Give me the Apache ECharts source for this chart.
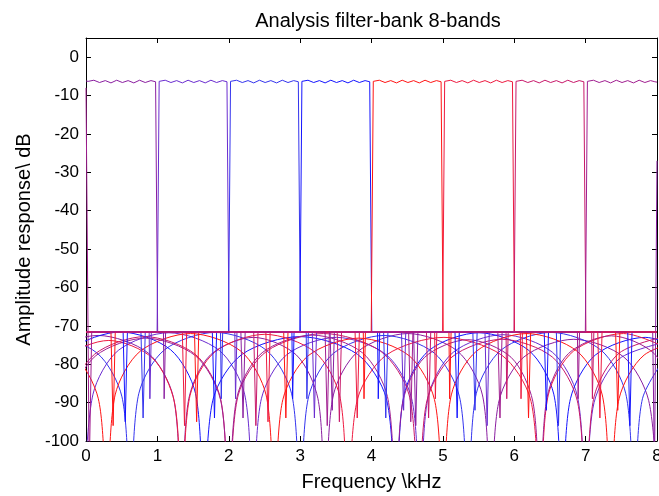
<!DOCTYPE html>
<html><head><meta charset="utf-8">
<script src="https://cdn.jsdelivr.net/npm/echarts@6/dist/echarts.min.js"></script>
<style>html,body{margin:0;padding:0;background:#fff}#c{width:659px;height:496px}</style>
</head><body><div id="c"></div>
<script>
// Tick labels
const xTicks = [0,1,2,3,4,5,6,7,8];
const yTicks = [-100,-90,-80,-70,-60,-50,-40,-30,-20,-10,0];
const bandNames = ['band 1','band 2','band 3','band 4','band 5','band 6','band 7','band 8'];
const bandColors = ['#8a1ea0','#6a2cd0','#3434ee','#1414ff','#ff1414','#ee1a40','#c8186a','#a01e90'];

// Main response lines (passband, transitions, stopband floor with notches): [kHz, dB]
const band1Main = [[0,-6.2],[0.03,-6.3],[0.11,-6.0],[0.19,-6.6],[0.27,-6.1],[0.35,-6.7],[0.43,-6.0],[0.51,-6.6],[0.59,-6.1],[0.67,-6.7],[0.75,-6.0],[0.83,-6.6],[0.91,-6.1],[0.975,-6.4],
 [1.004,-71.6],[1.085,-71.6],[1.095,-89],[1.105,-89],[1.115,-71.6],[2.17,-71.6],[2.2,-94],[2.23,-71.6],
 [3.42,-71.6],[3.45,-92],[3.48,-71.6],[4.59,-71.6],[4.62,-96],[4.65,-71.6],[7.94,-71.6],[7.965,-108],[8,-27]];
const band2Main = [[0,-71.6],[0.885,-71.6],[0.895,-89],[0.905,-89],[0.915,-71.6],[0.996,-71.6],
 [1.025,-6.3],[1.11,-6.0],[1.19,-6.6],[1.27,-6.1],[1.35,-6.7],[1.43,-6.0],[1.51,-6.6],[1.59,-6.1],[1.67,-6.7],[1.75,-6.0],[1.83,-6.6],[1.91,-6.1],[1.975,-6.4],
 [2.004,-71.6],[2.085,-71.6],[2.095,-89],[2.105,-89],[2.115,-71.6],[3.17,-71.6],[3.2,-94],[3.23,-71.6],
 [4.42,-71.6],[4.45,-92],[4.48,-71.6],[5.59,-71.6],[5.62,-96],[5.65,-71.6],[8,-71.6]];
const band3Main = [[0,-71.6],[0.77,-71.6],[0.8,-94],[0.83,-71.6],[1.885,-71.6],[1.895,-89],[1.905,-89],[1.915,-71.6],[1.996,-71.6],
 [2.025,-6.3],[2.11,-6.0],[2.19,-6.6],[2.27,-6.1],[2.35,-6.7],[2.43,-6.0],[2.51,-6.6],[2.59,-6.1],[2.67,-6.7],[2.75,-6.0],[2.83,-6.6],[2.91,-6.1],[2.975,-6.4],
 [3.004,-71.6],[3.085,-71.6],[3.095,-89],[3.105,-89],[3.115,-71.6],[4.17,-71.6],[4.2,-94],[4.23,-71.6],
 [5.42,-71.6],[5.45,-92],[5.48,-71.6],[6.59,-71.6],[6.62,-96],[6.65,-71.6],[8,-71.6]];
const band4Main = [[0,-71.6],[0.52,-71.6],[0.55,-95],[0.58,-71.6],[1.77,-71.6],[1.8,-94],[1.83,-71.6],
 [2.885,-71.6],[2.895,-89],[2.905,-89],[2.915,-71.6],[2.996,-71.6],
 [3.025,-6.3],[3.11,-6.0],[3.19,-6.6],[3.27,-6.1],[3.35,-6.7],[3.43,-6.0],[3.51,-6.6],[3.59,-6.1],[3.67,-6.7],[3.75,-6.0],[3.83,-6.6],[3.91,-6.1],[3.975,-6.4],
 [4.004,-71.6],[4.085,-71.6],[4.095,-89],[4.105,-89],[4.115,-71.6],[5.17,-71.6],[5.2,-94],[5.23,-71.6],
 [6.42,-71.6],[6.45,-92],[6.48,-71.6],[7.59,-71.6],[7.62,-96],[7.65,-71.6],[8,-71.6]];
const band5Main = [[0,-71.6],[0.35,-71.6],[0.38,-96],[0.41,-71.6],[1.52,-71.6],[1.55,-95],[1.58,-71.6],
 [2.77,-71.6],[2.8,-94],[2.83,-71.6],[3.885,-71.6],[3.895,-89],[3.905,-89],[3.915,-71.6],[3.996,-71.6],
 [4.025,-6.3],[4.11,-6.0],[4.19,-6.6],[4.27,-6.1],[4.35,-6.7],[4.43,-6.0],[4.51,-6.6],[4.59,-6.1],[4.67,-6.7],[4.75,-6.0],[4.83,-6.6],[4.91,-6.1],[4.975,-6.4],
 [5.004,-71.6],[5.085,-71.6],[5.095,-89],[5.105,-89],[5.115,-71.6],[6.17,-71.6],[6.2,-94],[6.23,-71.6],
 [7.42,-71.6],[7.45,-92],[7.48,-71.6],[8,-71.6]];
const band6Main = [[0,-71.6],[1.35,-71.6],[1.38,-96],[1.41,-71.6],[2.52,-71.6],[2.55,-95],[2.58,-71.6],
 [3.77,-71.6],[3.8,-94],[3.83,-71.6],[4.885,-71.6],[4.895,-89],[4.905,-89],[4.915,-71.6],[4.996,-71.6],
 [5.025,-6.3],[5.11,-6.0],[5.19,-6.6],[5.27,-6.1],[5.35,-6.7],[5.43,-6.0],[5.51,-6.6],[5.59,-6.1],[5.67,-6.7],[5.75,-6.0],[5.83,-6.6],[5.91,-6.1],[5.975,-6.4],
 [6.004,-71.6],[6.085,-71.6],[6.095,-89],[6.105,-89],[6.115,-71.6],[7.17,-71.6],[7.2,-94],[7.23,-71.6],[8,-71.6]];
const band7Main = [[0,-71.6],[2.35,-71.6],[2.38,-96],[2.41,-71.6],[3.52,-71.6],[3.55,-95],[3.58,-71.6],
 [4.77,-71.6],[4.8,-94],[4.83,-71.6],[5.885,-71.6],[5.895,-89],[5.905,-89],[5.915,-71.6],[5.996,-71.6],
 [6.025,-6.3],[6.11,-6.0],[6.19,-6.6],[6.27,-6.1],[6.35,-6.7],[6.43,-6.0],[6.51,-6.6],[6.59,-6.1],[6.67,-6.7],[6.75,-6.0],[6.83,-6.6],[6.91,-6.1],[6.975,-6.4],
 [7.004,-71.6],[7.085,-71.6],[7.095,-89],[7.105,-89],[7.115,-71.6],[8,-71.6]];
const band8Main = [[0,-8],[0.045,-108],[0.08,-71.6],[3.35,-71.6],[3.38,-96],[3.41,-71.6],[4.52,-71.6],[4.55,-95],[4.58,-71.6],
 [5.77,-71.6],[5.8,-94],[5.83,-71.6],[6.885,-71.6],[6.895,-89],[6.905,-89],[6.915,-71.6],[6.996,-71.6],
 [7.025,-6.3],[7.11,-6.0],[7.19,-6.6],[7.27,-6.1],[7.35,-6.7],[7.43,-6.0],[7.51,-6.6],[7.59,-6.1],[7.67,-6.7],[7.75,-6.0],[7.83,-6.6],[7.91,-6.1],[7.97,-6.4],[8,-6.5]];

// Stopband side-lobe arcs: [kHz, dB]
const band1Lobes = [[-1.0,-115],[-0.883,-88.5],[-0.532,-77.1],[0.17,-72.5],[0.872,-77.1],[1.223,-88.5],[1.34,-115],
 [1.44,-89],[1.742,-77.6],[2.345,-73],[2.948,-77.6],[3.25,-89],[3.35,-115],
 [3.466,-88],[3.814,-76.6],[4.51,-72],[5.206,-76.6],[5.554,-88],[5.67,-115],
 [5.787,-89.5],[6.136,-78.1],[6.835,-73.5],[7.534,-78.1],[7.884,-89.5],[8.0,-115]];
const band2Lobes = [[-0.02,-115],[0.098,-87.8],[0.452,-76.4],[1.16,-71.8],[1.868,-76.4],[2.222,-87.8],[2.34,-115],
 [2.457,-89],[2.808,-77.6],[3.51,-73],[4.212,-77.6],[4.563,-89],[4.68,-115],
 [4.796,-88.3],[5.144,-76.9],[5.84,-72.3],[6.536,-76.9],[6.884,-88.3],[7.0,-115],
 [7.118,-90],[7.47,-78.6],[8.175,-74]];
const band3Lobes = [[-1.7,-115],[-1.584,-88.5],[-1.236,-77.1],[-0.54,-72.5],[0.156,-77.1],[0.504,-88.5],[0.62,-115],
 [0.739,-87.7],[1.096,-76.3],[1.81,-71.7],[2.524,-76.3],[2.881,-87.7],[3.0,-115],
 [3.118,-88.5],[3.47,-77.1],[4.175,-72.5],[4.88,-77.1],[5.233,-88.5],[5.35,-115],
 [5.467,-87.7],[5.816,-76.3],[6.515,-71.7],[7.214,-76.3],[7.563,-87.7],[7.68,-115],
 [7.796,-89],[8.144,-77.6]];
const band4Lobes = [[-0.68,-115],[-0.564,-87.6],[-0.214,-76.2],[0.485,-71.6],[1.184,-76.2],[1.534,-87.6],[1.65,-115],
 [1.785,-88.8],[2.188,-77.4],[2.995,-72.8],[3.802,-77.4],[4.206,-88.8],[4.34,-115],
 [4.457,-87.8],[4.806,-76.4],[5.505,-71.8],[6.204,-76.4],[6.554,-87.8],[6.67,-115],
 [6.787,-89],[7.136,-77.6],[7.835,-73],[8.534,-77.6]];
const band5Lobes = [[-0.88,-73],[-0.178,-77.6],[0.173,-89],[0.29,-115],
 [0.408,-88],[0.76,-76.6],[1.465,-72],[2.17,-76.6],[2.523,-88],[2.64,-115],
 [2.758,-89.2],[3.112,-77.8],[3.82,-73.2],[4.528,-77.8],[4.882,-89.2],[5.0,-115],
 [5.118,-88],[5.47,-76.6],[6.175,-72],[6.88,-76.6],[7.233,-88],[7.35,-115],
 [7.468,-89],[7.82,-77.6],[8.525,-73]];
const band6Lobes = [[-0.7,-115],[-0.598,-89.8],[-0.292,-78.4],[0.32,-73.8],[0.932,-78.4],[1.238,-89.8],[1.34,-115],
 [1.457,-88.2],[1.806,-76.8],[2.505,-72.2],[3.204,-76.8],[3.554,-88.2],[3.67,-115],
 [3.805,-89],[4.208,-77.6],[5.015,-73],[5.822,-77.6],[6.226,-89],[6.36,-115],
 [6.477,-88],[6.828,-76.6],[7.53,-72],[8.232,-76.6]];
const band7Lobes = [[-0.35,-115],[-0.232,-88.8],[0.12,-77.4],[0.825,-72.8],[1.53,-77.4],[1.883,-88.8],[2.0,-115],
 [2.133,-88],[2.532,-76.6],[3.33,-72],[4.128,-76.6],[4.527,-88],[4.66,-115],
 [4.777,-89.5],[5.128,-78.1],[5.83,-73.5],[6.532,-78.1],[6.883,-89.5],[7.0,-115],
 [7.118,-88.5],[7.47,-77.1],[8.175,-72.5]];
const band8Lobes = [[-0.33,-115],[-0.214,-89.2],[0.136,-77.8],[0.835,-73.2],[1.534,-77.8],[1.884,-89.2],[2.0,-115],
 [2.117,-88.4],[2.468,-77],[3.17,-72.4],[3.872,-77],[4.223,-88.4],[4.34,-115],
 [4.441,-89.6],[4.744,-78.2],[5.35,-73.6],[5.956,-78.2],[6.259,-89.6],[6.36,-115],
 [6.46,-88.6],[6.76,-77.2],[7.36,-72.6],[7.96,-77.2],[8.26,-88.6]];

const mains = [band1Main,band2Main,band3Main,band4Main,band5Main,band6Main,band7Main,band8Main];
const lobes = [band1Lobes,band2Lobes,band3Lobes,band4Lobes,band5Lobes,band6Lobes,band7Lobes,band8Lobes];

const FONT = '"Liberation Sans", Arial, Helvetica, sans-serif';
const series = [];
for (let k = 0; k < 8; k++) {
  series.push({name: bandNames[k] + ' lobes', type:'line', data: lobes[k], smooth:0.3, showSymbol:false, symbol:'none',
    lineStyle:{width:1, color: bandColors[k]}, silent:true, z:2});
}
for (let k = 0; k < 8; k++) {
  series.push({name: bandNames[k], type:'line', data: mains[k], showSymbol:false, symbol:'none',
    lineStyle:{width:1, color: bandColors[k]}, silent:true, z:3});
}

const chart = echarts.init(document.getElementById('c'), null, {renderer:'canvas'});
const axisLineStyle = {color:'#000', width:1};
chart.setOption({
  animation:false,
  backgroundColor:'#fff',
  title:{text:'Analysis filter-bank 8-bands', left:373, top:6, textAlign:'center',
    textStyle:{fontSize:20, fontWeight:'normal', color:'#000', fontFamily:FONT}},
  grid:{left:86, right:2, top:38, bottom:55, containLabel:false, outerBoundsMode:'none'},
  xAxis:[{type:'value', min:xTicks[0], max:xTicks[xTicks.length-1], interval:1, position:'bottom',
      axisLine:{onZero:false, lineStyle:axisLineStyle}, axisTick:{inside:true, length:5, lineStyle:axisLineStyle},
      axisLabel:{color:'#000', fontSize:17, margin:7, fontFamily:FONT}, splitLine:{show:false},
      name:'Frequency \\kHz', nameLocation:'middle', nameGap:31, nameTextStyle:{color:'#000', fontSize:20, fontFamily:FONT}},
    {type:'value', min:xTicks[0], max:xTicks[xTicks.length-1], interval:1, position:'top',
      axisLine:{onZero:false, lineStyle:axisLineStyle}, axisTick:{inside:true, length:5, lineStyle:axisLineStyle},
      axisLabel:{show:false}, splitLine:{show:false}}],
  yAxis:[{type:'value', min:yTicks[0], max:5, interval:10, position:'left',
      axisLine:{onZero:false, lineStyle:axisLineStyle}, axisTick:{inside:true, length:5, lineStyle:axisLineStyle},
      axisLabel:{color:'#000', fontSize:17, margin:7, fontFamily:FONT, formatter:v => (yTicks.indexOf(v) >= 0 ? String(v) : '')},
      splitLine:{show:false},
      name:'Amplitude response\\ dB', nameLocation:'middle', nameGap:47, nameRotate:90, nameTextStyle:{color:'#000', fontSize:20, fontFamily:FONT}},
    {type:'value', min:yTicks[0], max:5, interval:10, position:'right',
      axisLine:{onZero:false, lineStyle:axisLineStyle}, axisTick:{inside:true, length:5, lineStyle:axisLineStyle},
      axisLabel:{show:false}, splitLine:{show:false}}],
  series: series
});
</script></body></html>
